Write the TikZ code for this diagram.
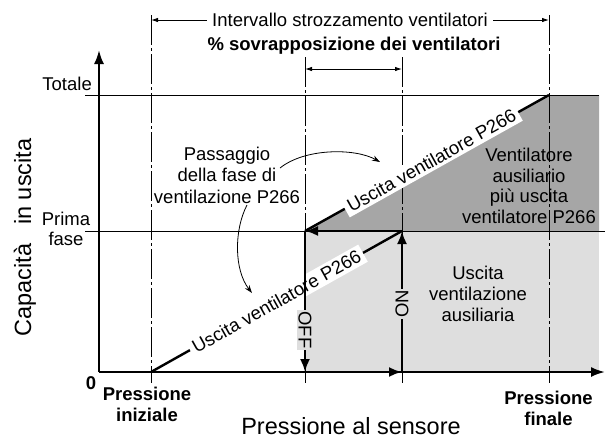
\documentclass[tikz,border=0pt]{standalone}
\usepackage{fontspec}
\setmainfont{Liberation Sans}
\usetikzlibrary{arrows.meta}
\definecolor{darkg}{HTML}{A6A6A6}
\definecolor{lightg}{HTML}{DEDEDE}
\begin{document}
\begin{tikzpicture}[x=1pt,y=-1pt,
  txt/.style={font=\fontsize{18.5}{21.5}\selectfont, inner sep=0pt, align=center},
  big/.style={font=\fontsize{23.5}{26}\selectfont, inner sep=0pt},
  bld/.style={font=\fontsize{18.5}{21}\selectfont\bfseries, inner sep=0pt, align=center},
  thinl/.style={line width=0.9pt},
  dd/.style={line width=0.9pt, dash pattern=on 30pt off 3pt on 3pt off 3pt},
  thk/.style={line width=2.4pt},
  bigarrow/.style={thk, -{Latex[length=13pt,width=10pt]}},
  dimarrow/.style={thinl, {Latex[length=7pt,width=4.5pt]}-{Latex[length=7pt,width=4.5pt]}},
  curv/.style={line width=0.8pt, -{Stealth[length=8pt,width=5.5pt]}},
  diaglab/.style={font=\fontsize{18.5}{21.5}\selectfont, fill=white, inner xsep=4pt, inner ysep=3pt, rotate=29.2}
]
\useasboundingbox (0,0) rectangle (605,440);
% key points
\coordinate (O) at (99,372);
\coordinate (Ytop) at (99,50);
\coordinate (Xend) at (605,372);
\coordinate (Pi) at (151,372);
\coordinate (Aoff) at (305,231);
\coordinate (Aon) at (402,231);
\coordinate (Boff) at (305,372);
\coordinate (Bon) at (402,372);
\coordinate (Pf) at (549,95);
% fills
\fill[lightg] (305,231) rectangle (599,372);
\fill[darkg] (Aoff) -- (Pf) -- (599,95) -- (599,231) -- cycle;
% level lines
\coordinate (Tl) at (85,95); \coordinate (Tr) at (599,95);
\coordinate (Fl) at (85,231); \coordinate (Fr) at (605,231);
\draw[thinl] (Tl) -- (Tr);
\draw[thinl] (Fl) -- (Fr);
% dash-dot verticals
\coordinate (v1t) at (151,15); \coordinate (v1b) at (151,383);
\coordinate (v2t) at (305,57); \coordinate (v2b) at (305,383);
\coordinate (v3t) at (402,57); \coordinate (v3b) at (402,383);
\coordinate (v4t) at (549,15); \coordinate (v4b) at (549,383);
\draw[dd] (v1t) -- (v1b);
\draw[dd] (v2t) -- (v2b);
\draw[dd] (v3t) -- (v3b);
\draw[dd] (v4t) -- (v4b);
% axes
\draw[line width=2.2pt, -{Latex[length=14pt,width=10pt]}] (O) -- (Ytop);
\draw[line width=2.2pt, -{Latex[length=14pt,width=10pt]}] (O) -- (Xend);
% dimension arrows
\coordinate (d1l) at (151,20); \coordinate (d1r) at (549,20);
\draw[dimarrow] (d1l) -- (d1r) node[midway, txt, fill=white, inner xsep=5pt] (intv) {Intervallo strozzamento ventilatori};
\node[bld] (sovr) at (354,46) {\% sovrapposizione dei ventilatori};
\coordinate (d2l) at (305,69); \coordinate (d2r) at (402,69);
\draw[dimarrow] (d2l) -- (d2r);
% diagonals
\draw[thk] (Pi) -- (Aon);
\draw[thk] (Aoff) -- (Pf);
\node[diaglab] (u1) at (276.5,301.5) {Uscita ventilatore P266};
\node[diaglab] (u2) at (431.5,160.5) {Uscita ventilatore P266};
% big arrows
\draw[bigarrow] (Aon) -- (Aoff);
\draw[bigarrow] (Bon) -- (Aon);
\draw[bigarrow] (Aoff) -- (Boff);
\draw[bigarrow] (Boff) -- (Bon);
\node[txt, rotate=-90, fill=lightg, inner sep=1.5pt] (off) at (305,330) {OFF};
\node[txt, rotate=90, fill=lightg, inner sep=1.5pt] (on) at (402,304) {ON};
% axis labels
\node[big, rotate=90] (ylab) at (25,237.5) {Capacità\hspace{0.8em}in uscita};
\node[big] (xlab) at (351,426.5) {Pressione al sensore};
\node[txt, anchor=east] (tot) at (92,84) {Totale};
\node[txt, font=\fontsize{18.5}{19.5}\selectfont] (pf) at (66,229) {Prima\\fase};
\node[bld] (zero) at (91,383) {0};
\node[bld] (pin) at (147,404) {Pressione\\iniziale};
\node[bld] (pfin) at (548.5,408) {Pressione\\finale};
% area texts
\node[txt] (pass) at (227,175) {Passaggio\\della fase di\\ventilazione P266};
\node[txt, font=\fontsize{18.5}{20.7}\selectfont] (vaus) at (529,186) {Ventilatore\\ausiliario\\più uscita\\ventilatore P266};
\node[txt, font=\fontsize{18.5}{21}\selectfont] (uaus) at (478,294) {Uscita\\ventilazione\\ausiliaria};
% curved arrows
\coordinate (c1s) at (280,168); \coordinate (c1e) at (380,162);
\draw[curv] (c1s) .. controls (305,148) and (355,148) .. (c1e);
\coordinate (c2s) at (247,205); \coordinate (c2e) at (252,293);
\draw[curv] (c2s) .. controls (234,230) and (234,270) .. (c2e);
\end{tikzpicture}
\end{document}
